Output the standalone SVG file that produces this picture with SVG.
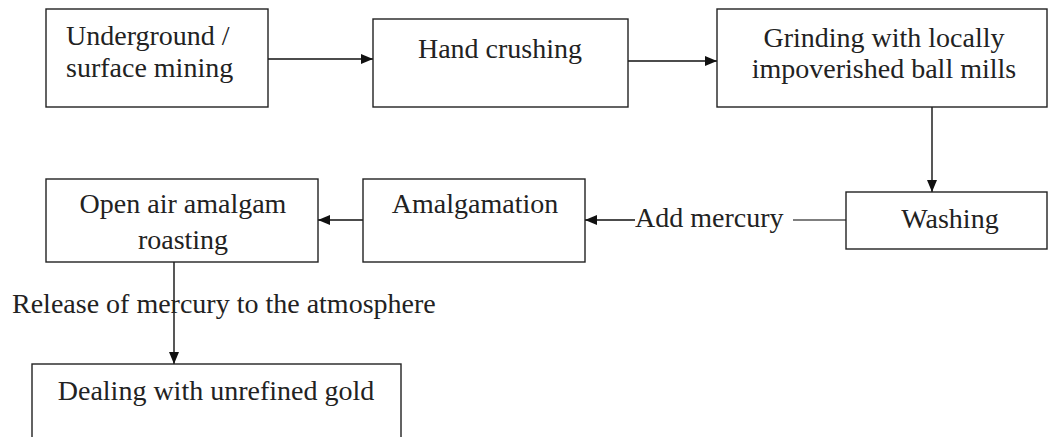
<svg xmlns="http://www.w3.org/2000/svg" width="1048" height="437" viewBox="0 0 1048 437">
  <style>
    .box { fill: #fff; stroke: #222; stroke-width: 1.4; }
    .lbl { font-family: "Liberation Serif", "Times New Roman", serif; font-size: 28px; fill: #222; }
    .mid { text-anchor: middle; }
    .wire { fill: none; stroke: #111; stroke-width: 1.4; }
    .plain { fill: none; stroke: #555; stroke-width: 1.4; }
  </style>
  <defs>
    <marker id="head" viewBox="0 0 12 10" refX="12" refY="5" markerWidth="12" markerHeight="10" markerUnits="userSpaceOnUse" orient="auto">
      <path d="M0,0 L12,5 L0,10 z" fill="#111"/>
    </marker>
  </defs>

  <rect width="1048" height="437" fill="#fff"/>

  <g id="connectors">
    <line class="wire" x1="268" y1="59" x2="373" y2="59" marker-end="url(#head)"/>
    <line class="wire" x1="628" y1="61" x2="717" y2="61" marker-end="url(#head)"/>
    <line class="wire" x1="932" y1="107" x2="932" y2="192" marker-end="url(#head)"/>
    <line class="plain" x1="846" y1="220" x2="793" y2="220"/>
    <line class="wire" x1="635" y1="220" x2="585" y2="220" marker-end="url(#head)"/>
    <line class="wire" x1="363" y1="220" x2="318" y2="220" marker-end="url(#head)"/>
    <line class="wire" x1="174" y1="262" x2="174" y2="364" marker-end="url(#head)"/>
    <text class="lbl" x="635" y="227">Add mercury</text>
    <text class="lbl" x="12" y="313">Release of mercury to the atmosphere</text>
  </g>

  <g id="mining">
    <rect class="box" x="46" y="9" width="222" height="98"/>
    <text class="lbl" x="66" y="45">Underground /</text>
    <text class="lbl" x="66" y="77">surface mining</text>
  </g>

  <g id="crushing">
    <rect class="box" x="373" y="19" width="255" height="88"/>
    <text class="lbl mid" x="500" y="58">Hand crushing</text>
  </g>

  <g id="grinding">
    <rect class="box" x="717" y="9" width="330" height="98"/>
    <text class="lbl mid" x="884" y="47">Grinding with locally</text>
    <text class="lbl mid" x="884" y="78">impoverished ball mills</text>
  </g>

  <g id="washing">
    <rect class="box" x="846" y="192" width="201" height="57"/>
    <text class="lbl mid" x="950" y="228">Washing</text>
  </g>

  <g id="amalgamation">
    <rect class="box" x="363" y="179" width="222" height="83"/>
    <text class="lbl mid" x="475" y="213">Amalgamation</text>
  </g>

  <g id="roasting">
    <rect class="box" x="46" y="179" width="272" height="83"/>
    <text class="lbl mid" x="183" y="213">Open air amalgam</text>
    <text class="lbl mid" x="183" y="249">roasting</text>
  </g>

  <g id="unrefined-gold">
    <rect class="box" x="32" y="364" width="369" height="90"/>
    <text class="lbl mid" x="216" y="400">Dealing with unrefined gold</text>
  </g>
</svg>
